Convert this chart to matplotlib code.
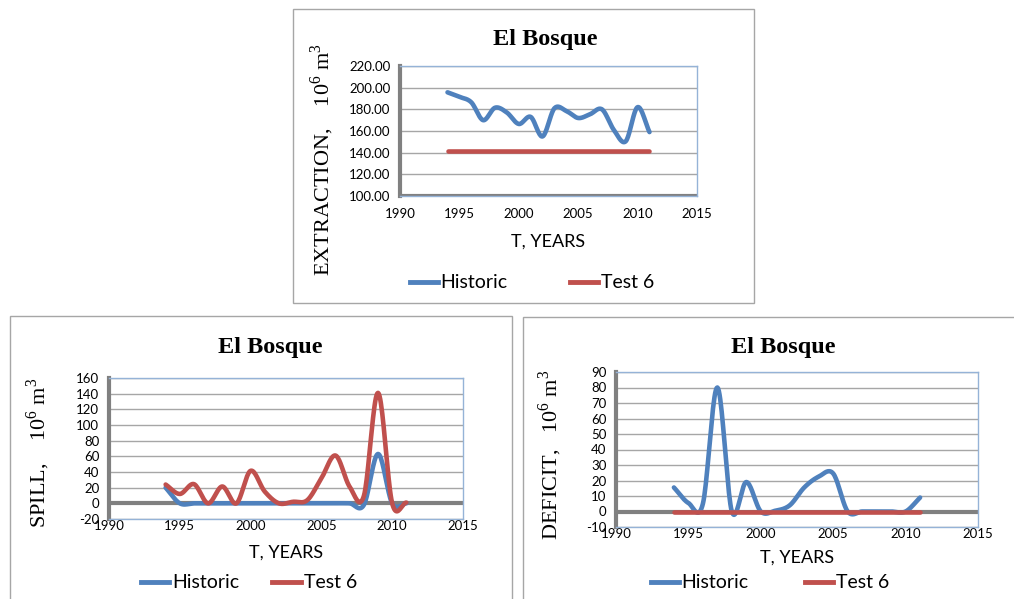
import numpy as np
import matplotlib
matplotlib.use("Agg")
import matplotlib.pyplot as plt
from matplotlib.lines import Line2D
from matplotlib.patches import Rectangle

plt.rcParams['mathtext.fontset'] = 'custom'
plt.rcParams['mathtext.rm'] = 'Liberation Serif'

# datos
anios = list(range(1994, 2012))

extraccion_hist = [195.7, 191.5, 186.5, 170, 181.5, 177, 166.5, 173, 155, 181, 178.5,
                   172, 175.5, 180, 161, 150.5, 182, 159]
extraccion_test6 = [142] * 18

derrame_hist = [20, 0, 0, 0, 0, 0, 0, 0, 0, 0, 0, 0, 0, 0, -2, 63, 0, 0]
derrame_test6 = [24, 12, 24.5, 0, 21.5, 0, 41.5, 15, 0, 2, 4, 32, 61, 21, 9.5, 141, 0, 1]

deficit_hist = [15.5, 5.5, 5, 80, 0, 19, 0, 0.5, 4, 15.5, 22.5, 24.5, 0, 0, 0, 0, 0, 9]
deficit_test6 = [0] * 18

azul = '#4F81BD'
rojo = '#C0504D'
gris = '#808080'
W, H = 1014, 599


def suavizar(x, y, n=20):
    # curva suavizada tipo Excel (Catmull-Rom)
    x = np.asarray(x, float)
    y = np.asarray(y, float)
    px = np.concatenate([[2 * x[0] - x[1]], x, [2 * x[-1] - x[-2]]])
    py = np.concatenate([[2 * y[0] - y[1]], y, [2 * y[-1] - y[-2]]])
    xs, ys = [], []
    t = np.linspace(0, 1, n, endpoint=False)
    for i in range(1, len(px) - 2):
        p0, p1, p2, p3 = py[i - 1], py[i], py[i + 1], py[i + 2]
        ys.append(0.5 * (2 * p1 + (-p0 + p2) * t + (2 * p0 - 5 * p1 + 4 * p2 - p3) * t ** 2
                         + (-p0 + 3 * p1 - 3 * p2 + p3) * t ** 3))
        xs.append(px[i] + (px[i + 1] - px[i]) * t)
    xs.append([x[-1]])
    ys.append([y[-1]])
    return np.concatenate(xs), np.concatenate(ys)


def caja(l, t, r, b):
    return [l / W, 1 - b / H, (r - l) / W, (b - t) / H]


def marco(fig, l, t, r, b):
    fig.add_artist(Rectangle((l / W, 1 - b / H), (r - l) / W, (b - t) / H,
                             transform=fig.transFigure, fill=False,
                             edgecolor='#A6A6A6', lw=1))


def panel(fig, pos, hist, test, ymin, ymax, paso, fmt, linea_cero, ylabel,
          tit_xy, ylab_xy, xlab_y, leg_xy, colsp, xpad):
    ax = fig.add_axes(caja(*pos))
    ax.set_xlim(1990, 2015)
    ax.set_ylim(ymin, ymax)
    ax.set_xticks(range(1990, 2016, 5))
    ax.set_yticks(np.arange(ymin, ymax + paso / 2, paso))
    ax.set_yticklabels([fmt.format(v) for v in np.arange(ymin, ymax + paso / 2, paso)])
    ax.yaxis.grid(True, color='#A6A6A6', lw=1)
    ax.set_axisbelow(True)
    ax.tick_params(length=0, labelsize=9.5)
    ax.tick_params(axis='y', pad=7)
    ax.tick_params(axis='x', pad=xpad)
    for lab in ax.get_xticklabels() + ax.get_yticklabels():
        lab.set_fontfamily('Lato')
    for s in ['top', 'right', 'bottom']:
        ax.spines[s].set_color('#95B3D7')
        ax.spines[s].set_linewidth(1)
    ax.spines['left'].set_color(gris)
    ax.spines['left'].set_linewidth(3)
    ax.axhline(linea_cero, color=gris, lw=3, zorder=1.5)
    xs, ys = suavizar(anios, hist)
    ax.plot(xs, ys, color=azul, lw=3.3, solid_capstyle='round', zorder=3)
    xs, ys = suavizar(anios, test)
    ax.plot(xs, ys, color=rojo, lw=3.3, solid_capstyle='round', zorder=4)

    fig.text(tit_xy[0] / W, 1 - tit_xy[1] / H, 'El Bosque', ha='center', va='center',
             fontsize=17.5, fontweight='bold', family='Liberation Serif')
    fig.text(ylab_xy[0] / W, 1 - ylab_xy[1] / H, ylabel, rotation=90,
             ha='center', va='center', fontsize=16, family='Liberation Serif')
    fig.text((pos[0] + pos[2]) / 2 / W, 1 - xlab_y / H, 'T, YEARS', ha='center',
             va='center', fontsize=13, family='Lato')
    handles = [Line2D([], [], color=azul, lw=3.5), Line2D([], [], color=rojo, lw=3.5)]
    fig.legend(handles, ['Historic', 'Test 6'], loc='center',
               bbox_to_anchor=(leg_xy[0] / W, 1 - leg_xy[1] / H), ncol=2, frameon=False,
               prop={'family': 'Lato', 'size': 14}, handlelength=1.45, handletextpad=0.15,
               columnspacing=colsp, borderpad=0)
    return ax


fig = plt.figure(figsize=(W / 100, H / 100), dpi=100)
fig.patch.set_facecolor('white')

marco(fig, 293, 9, 754, 303)
marco(fig, 10, 316, 512, 620)
marco(fig, 523, 317, 1030, 620)

panel(fig, (400, 66, 697, 196), extraccion_hist, extraccion_test6, 100, 220, 20, '{:.2f}',
      100, r'EXTRACTION,    10$^{\mathrm{6}}$ m$^{\mathrm{3}}$',
      (545, 40), (322, 160), 242, (532, 283), 3.2, 9)
panel(fig, (109, 378, 463, 519), derrame_hist, derrame_test6, -20, 160, 20, '{:.0f}',
      0, r'SPILL,    10$^{\mathrm{6}}$ m$^{\mathrm{3}}$',
      (270, 347), (38, 453), 553, (249, 583), 1.7, 0.5)
panel(fig, (616, 372, 978, 527), deficit_hist, deficit_test6, -10, 90, 10, '{:.0f}',
      0, r'DEFICIT,   10$^{\mathrm{6}}$ m$^{\mathrm{3}}$',
      (783, 348), (550, 455), 558, (770, 583), 2.9, 0.5)

fig.savefig('out.png', dpi=100, facecolor='white')
